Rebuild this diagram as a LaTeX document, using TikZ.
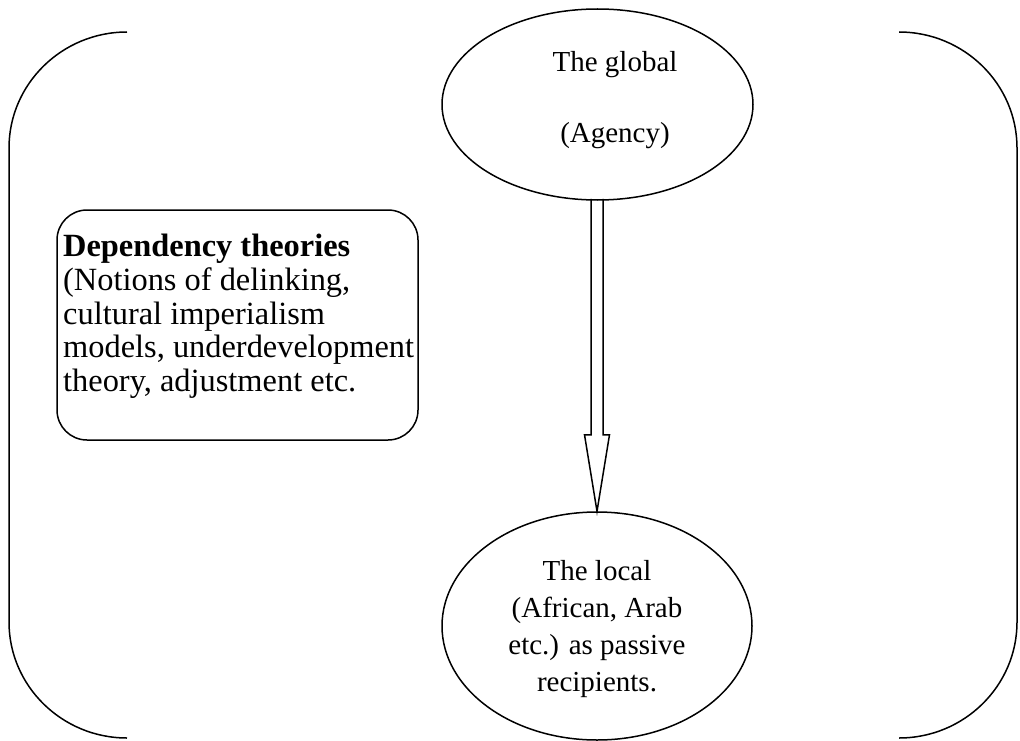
\documentclass[tikz,border=0pt]{standalone}
\usepackage{fontspec}
\setmainfont{Liberation Serif}
\usetikzlibrary{shapes.geometric,calc}
\begin{document}
\begin{tikzpicture}[x=1pt,y=-1pt,
  line/.style={line width=1.5pt, black},
  ell/.style={ellipse, draw, line width=1.5pt, inner sep=0pt},
  rbox/.style={draw, line width=1.5pt, rounded corners=30pt, inner sep=0pt},
  etext/.style={align=center, inner sep=0pt, font=\fontsize{29}{36.8}\selectfont},
  btext/.style={align=left, inner sep=0pt, anchor=north west, font=\fontsize{32.4}{33.7}\selectfont}]
\path[use as bounding box] (0,0) rectangle (1020,741);
% brackets
\draw[line] (127,32) .. controls (62,32) and (9,84) .. (9,148) -- (9,622)
  .. controls (9,686) and (62,738) .. (127,738);
\draw[line] (899,32) .. controls (964,32) and (1017,84) .. (1017,148) -- (1017,622)
  .. controls (1017,686) and (964,738) .. (899,738);
% ellipses
\node[ell, minimum width=311pt, minimum height=191pt] (global) at (597.5,104.5) {};
\node[etext] (globaltext) at (615,100) {The global\\[34pt](Agency)};
\node[ell, minimum width=310pt, minimum height=228pt] (local) at (597,626) {};
\node[etext] (localtext) at (597,629) {The local\\(African, Arab\\etc.) as passive\\recipients.};
% box
\node[rbox, minimum width=361pt, minimum height=230pt] (dep) at (237.5,325) {};
\node[btext] (deptext) at (63,234) {\textbf{Dependency theories}\\(Notions of delinking,\\cultural imperialism\\models, underdevelopment\\theory, adjustment etc.};
% arrow
\draw[line, line join=miter]
  ($(global.south)+(-6.5,-2)$) -- ($(global.south)+(-6.5,234)$)
  -- ($(global.south)+(-13,234)$) -- (local.north)
  -- ($(global.south)+(12,234)$) -- ($(global.south)+(5.5,234)$)
  -- ($(global.south)+(5.5,-2)$);
\end{tikzpicture}
\end{document}
